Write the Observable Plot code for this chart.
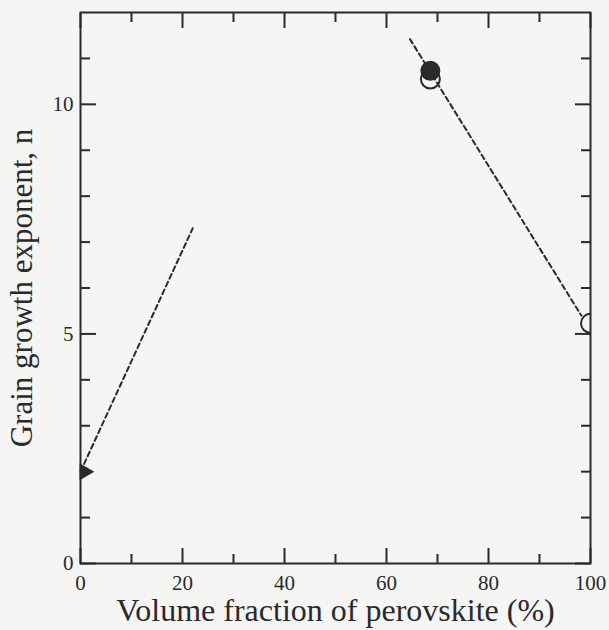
<!DOCTYPE html>
<html><head><meta charset="utf-8">
<script src="https://cdn.jsdelivr.net/npm/d3@7"></script>
<script src="https://cdn.jsdelivr.net/npm/@observablehq/plot@0.6"></script>
<style>
html,body{margin:0;padding:0;background:#f5f5f4;}
</style></head><body><div id="chart"></div>
<script>
const xMajorTicks = [0, 20, 40, 60, 80, 100];
const xMinorTicks = [10, 30, 50, 70, 90];
const yMajorTicks = [0, 5, 10];
const yMinorTicks = [1, 2, 3, 4, 6, 7, 8, 9, 11];
const xTitle = ["Volume fraction of perovskite (%)"];
const yTitle = ["Grain growth exponent, n"];

const fitLowX = [0, 22];
const fitLowY = [2, 7.3];
const fitHighX = [64.6, 98.2];
const fitHighY = [11.42, 5.40];

const triangleX = [0];
const triangleY = [2];
const filledX = [68.6];
const filledY = [10.73];
const openX = [68.6, 100];
const openY = [10.55, 5.23];

const ink = "#2a2a2a";
const font = "'Liberation Serif', 'Times New Roman', serif";

const tickAxisX = (vals, anchor, len) => Plot.axisX(vals, {anchor, tickSize: -len, fill: "none", stroke: ink, strokeWidth: 2, label: null});
const tickAxisY = (vals, anchor, len) => Plot.axisY(vals, {anchor, tickSize: -len, fill: "none", stroke: ink, strokeWidth: 2, label: null});

const chart = Plot.plot({
  width: 609,
  height: 630,
  marginLeft: 80,
  marginRight: 19,
  marginTop: 12,
  marginBottom: 67,
  style: {background: "#f5f5f4", fontFamily: font, color: ink},
  x: {domain: [0, 100]},
  y: {domain: [0, 12]},
  marks: [
    tickAxisX(xMajorTicks, "bottom", 15),
    tickAxisX(xMinorTicks, "bottom", 9),
    tickAxisX(xMajorTicks, "top", 15),
    tickAxisX(xMinorTicks, "top", 9),
    tickAxisY(yMajorTicks, "left", 16),
    tickAxisY(yMinorTicks, "left", 10),
    tickAxisY(yMajorTicks, "right", 16),
    tickAxisY(yMinorTicks, "right", 10),
    Plot.axisX(xMajorTicks, {anchor: "bottom", tickSize: 0, tickPadding: 12, fontSize: 21, fontFamily: font, fontVariant: "normal", fill: ink, label: null}),
    Plot.axisY(yMajorTicks, {anchor: "left", tickSize: 0, tickPadding: 7, fontSize: 21, fontFamily: font, fontVariant: "normal", fill: ink, label: null}),
    Plot.frame({stroke: ink, strokeWidth: 2}),
    Plot.line(fitLowX, {x: d => d, y: (d, i) => fitLowY[i], stroke: ink, strokeWidth: 2, strokeDasharray: "5,3.5"}),
    Plot.line(fitHighX, {x: d => d, y: (d, i) => fitHighY[i], stroke: ink, strokeWidth: 2, strokeDasharray: "5,3.5"}),
    Plot.dot(openX, {x: d => d, y: (d, i) => openY[i], r: 9.5, stroke: ink, strokeWidth: 2, fill: "none", clip: true}),
    Plot.dot(filledX, {x: d => d, y: (d, i) => filledY[i], r: 10, fill: ink, stroke: "none"}),
    Plot.dot(triangleX, {x: d => d, y: (d, i) => triangleY[i], symbol: "triangle", rotate: 90, r: 6.3, dx: 4, fill: ink, stroke: "none"}),
    Plot.text(xTitle, {text: d => d, frameAnchor: "bottom", dy: 47, textAnchor: "middle", lineAnchor: "middle", fontSize: 32, fontFamily: font, fill: ink}),
    Plot.text(yTitle, {text: d => d, frameAnchor: "left", dx: -58, rotate: -90, textAnchor: "middle", lineAnchor: "middle", fontSize: 31, fontFamily: font, fill: ink})
  ]
});
document.getElementById("chart").appendChild(chart);
</script>
</body></html>
